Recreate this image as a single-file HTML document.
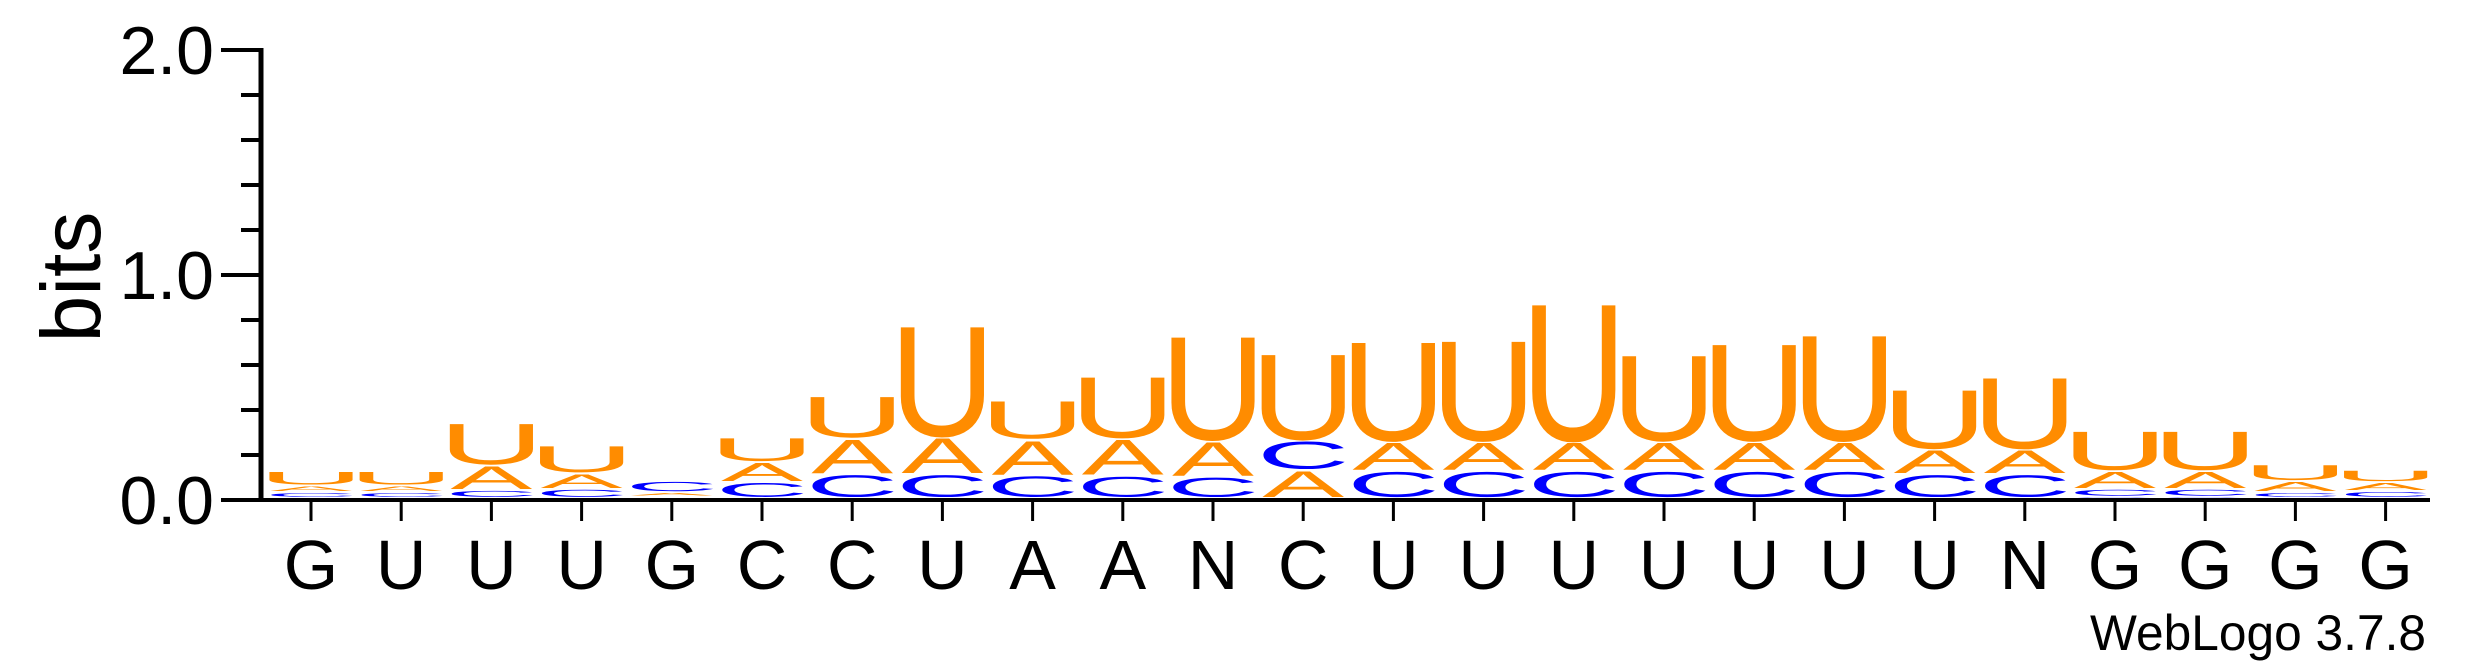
<!DOCTYPE html>
<html><head><meta charset="utf-8"><style>
html,body{margin:0;padding:0;background:#fff;}
svg{display:block;font-family:"Liberation Sans",sans-serif;}
</style></head><body>
<svg id="chart" width="2475" height="667" viewBox="0 0 2475 667" xmlns="http://www.w3.org/2000/svg">
<g id="marks"></g>
<g id="axes"></g>
<text transform="translate(100,277) rotate(-90)" text-anchor="middle" font-size="84" fill="#000">bits</text>
<text x="2426" y="650" text-anchor="end" font-size="50" textLength="336" lengthAdjust="spacingAndGlyphs" fill="#000">WebLogo 3.7.8</text>
</svg>
<script>
const positions = ["G","U","U","U","G","C","C","U","A","A","N","C","U","U","U","U","U","U","U","N","G","G","G","G"];
const heightsA = [0.03,0.03,0.11,0.07,0.02,0.09,0.16,0.165,0.16,0.165,0.16,0.125,0.13,0.13,0.13,0.13,0.13,0.13,0.11,0.11,0.08,0.08,0.05,0.04];
const heightsC = [0.025,0.025,0.035,0.04,0.05,0.07,0.105,0.105,0.10,0.098,0.094,0.13,0.12,0.12,0.12,0.12,0.12,0.12,0.105,0.105,0.035,0.035,0.025,0.03];
const heightsG = [0.01,0.01,0.01,0.01,0.01,0.01,0.01,0.01,0.01,0.01,0.01,0.01,0.01,0.01,0.01,0.01,0.01,0.01,0.01,0.01,0.015,0.015,0.01,0.01];
const heightsU = [0.065,0.065,0.19,0.125,0.005,0.11,0.19,0.50,0.175,0.28,0.47,0.39,0.45,0.455,0.62,0.39,0.44,0.48,0.27,0.325,0.18,0.18,0.075,0.055];
const yTicks = ["0.0","1.0","2.0"];
const yTickValues = [0,1,2];

const NS="http://www.w3.org/2000/svg";
const x0=261, x1=2430, base=500, pxPerBit=225;
const colX = i => 311 + i*90.2;
const yScale = v => base - v*pxPerBit;
const colors = {A:"#ff8c00",C:"#0000ff",G:"#0000ff",U:"#ff8c00"};
const ink = {A:0.667,C:0.64,G:0.69,U:0.56};
const marks=document.getElementById('marks');
const axes=document.getElementById('axes');

for(let i=0;i<positions.length;i++){
  const stack=[["A",heightsA[i]],["C",heightsC[i]],["G",heightsG[i]],["U",heightsU[i]]].sort((a,b)=>a[1]-b[1]);
  let cum=0;
  for(const [L,h] of stack){
    const bottom=yScale(cum), top=yScale(cum+h);
    cum+=h;
    const hPx=(bottom-top)-2;
    if(hPx<=0.3) continue;
    const sy=hPx/70, sx=82/(ink[L]*100);
    const t=document.createElementNS(NS,'text');
    
    
    t.setAttribute('transform',`translate(${colX(i)},${bottom-1}) scale(${sx},${sy})`);
    t.setAttribute('text-anchor','middle');
    t.setAttribute('font-size','100');
    t.setAttribute('fill',colors[L]);
    t.textContent=L;
    marks.appendChild(t);
  }
  const tk=document.createElementNS(NS,'line');
  
  
  tk.setAttribute('x1',colX(i));tk.setAttribute('x2',colX(i));
  tk.setAttribute('y1',base);tk.setAttribute('y2',521);
  tk.setAttribute('stroke','#000');tk.setAttribute('stroke-width','3');
  axes.appendChild(tk);
  const lb=document.createElementNS(NS,'text');
  
  
  lb.setAttribute('x',colX(i));lb.setAttribute('y',589);
  lb.setAttribute('text-anchor','middle');lb.setAttribute('font-size','70');
  lb.textContent=positions[i];
  axes.appendChild(lb);
}
function line(x1,y1,x2,y2,w,name){
  const l=document.createElementNS(NS,'line');
  
  
  l.setAttribute('x1',x1);l.setAttribute('y1',y1);l.setAttribute('x2',x2);l.setAttribute('y2',y2);
  l.setAttribute('stroke','#000');l.setAttribute('stroke-width',w);
  axes.appendChild(l);
}
line(x0,yScale(2)-2,x0,base+2,5,'y-axis-line');
line(x0-2,base,x1,base,4,'x-axis-line');
for(let k=0;k<=10;k++){
  const v=k*0.2, major=(k%5===0);
  line(major?221:241,yScale(v),x0,yScale(v),4,major?'y-major-tick':'y-minor-tick');
}
for(let k=0;k<yTicks.length;k++){
  const t=document.createElementNS(NS,'text');
  
  
  t.setAttribute('x',214);t.setAttribute('y',yScale(yTickValues[k])+24);
  t.setAttribute('text-anchor','end');t.setAttribute('font-size','68');
  t.textContent=yTicks[k];
  axes.appendChild(t);
}
</script>
</body></html>
